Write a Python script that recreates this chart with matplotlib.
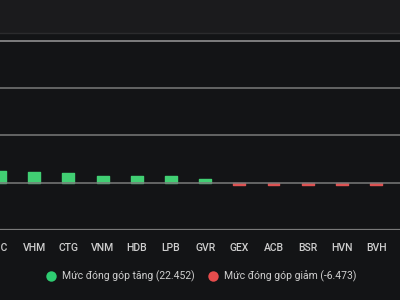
import matplotlib
matplotlib.use("Agg")
import matplotlib.pyplot as plt
from matplotlib.patches import Rectangle
from matplotlib.lines import Line2D

categories = ["VIC", "VHM", "CTG", "VNM", "HDB", "LPB", "GVR", "GEX", "ACB", "BSR", "HVN", "BVH"]
values = [1.24, 1.17, 1.00, 0.74, 0.70, 0.69, 0.42, -0.22, -0.22, -0.22, -0.22, -0.22]
legend_labels = ["Mức đóng góp tăng (22.452)", "Mức đóng góp giảm (-6.473)"]

GREEN = "#41cf73"
RED = "#dd5252"
BG = "#131416"
HEADER = "#1b1b1d"
GRID = "#7a7a7a"
TEXT = "#cfcfcf"

plt.rcParams["font.family"] = ["Roboto", "DejaVu Sans"]

fig = plt.figure(figsize=(4, 3), dpi=100, facecolor=BG)
# header band
fig.patches.append(Rectangle((0, 0.89), 1, 0.11, transform=fig.transFigure,
                             facecolor=HEADER, edgecolor="none", zorder=0))
fig.lines.append(Line2D([0, 1], [0.891, 0.891], transform=fig.transFigure,
                        color="#2b2b2d", lw=1.0))

ax = fig.add_axes([0, 0.2333, 1, 0.6567])
ax.set_facecolor(BG)
ax.patch.set_alpha(0)

x = list(range(len(categories)))
colors = [GREEN if v >= 0 else RED for v in values]
ax.bar(x, values, width=0.35, color=colors, edgecolor=colors, linewidth=1.0,
       joinstyle="round", zorder=3)

ax.set_xlim(0.123, 11.70)
ax.set_ylim(-5, 15.82)
for yv in [0, 5, 10]:
    ax.axhline(yv, color=GRID, lw=1.1, zorder=2 if yv else 4)
ax.axhline(15, color="#9a9a9a", lw=1.1, zorder=2)
ax.axhline(-5, color=GRID, lw=1.6, zorder=2)

for s in ax.spines.values():
    s.set_visible(False)
ax.set_yticks([])
ax.set_xticks(x)
ax.set_xticklabels(categories, color=TEXT, fontsize=7.5, fontweight="medium")
ax.tick_params(axis="x", length=0, pad=9)

# legend
ly = 1 - 276 / 300
fig.lines.append(Line2D([0.128], [ly], transform=fig.transFigure, marker="o",
                        markersize=7.5, color="#2ecc71", markeredgecolor="none"))
fig.text(0.155, ly, legend_labels[0], color=TEXT, fontsize=7.5,
         va="center", ha="left")
fig.lines.append(Line2D([0.533], [ly], transform=fig.transFigure, marker="o",
                        markersize=7.5, color="#e74c4c", markeredgecolor="none"))
fig.text(0.56, ly, legend_labels[1], color=TEXT, fontsize=7.5,
         va="center", ha="left")

fig.savefig("out.png", dpi=100, facecolor=BG)
